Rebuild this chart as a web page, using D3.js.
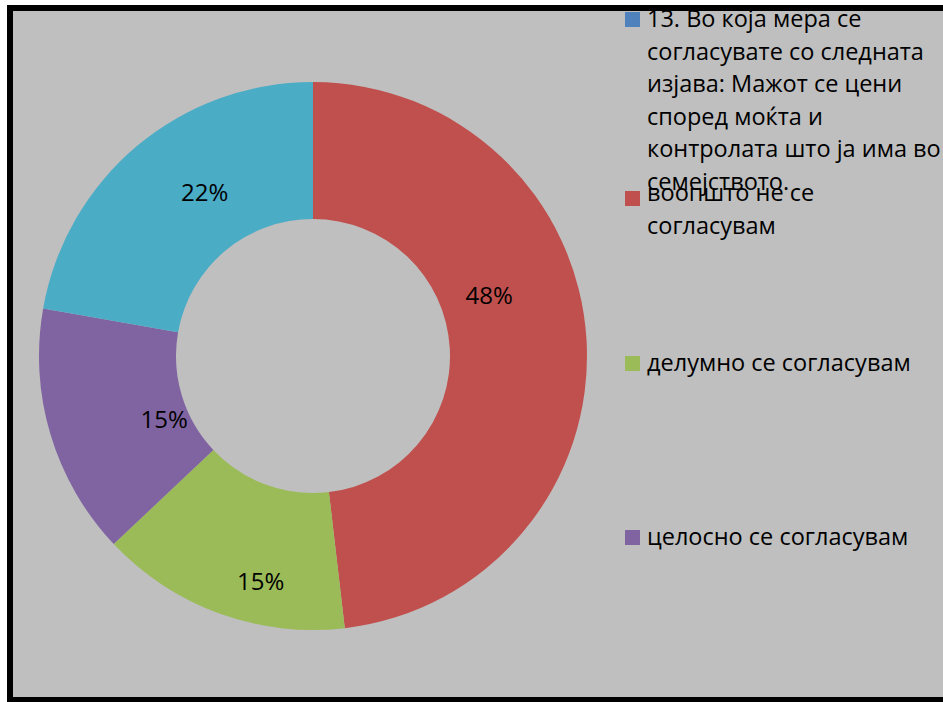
<!DOCTYPE html>
<html>
<head>
<meta charset="utf-8">
<script src="https://cdn.jsdelivr.net/npm/d3@7"></script>
<style>
  body { margin: 0; background: #fff; }
  text { font-family: "Open Sans", "Noto Sans", sans-serif; fill: #000; }
</style>
</head>
<body>
<div id="chart"></div>
<script>
// data
var categories = [
  "13. Во која мера се\nсогласувате со следната\nизјава: Мажот се цени\nспоред моќта и\nконтролата што ја има во\nсемејството.",
  "воопшто не се\nсогласувам",
  "делумно се согласувам",
  "целосно се согласувам"
];
var sliceCategories = ["воопшто не се согласувам", "делумно се согласувам", "целосно се согласувам", "(без наслов)"];
var sliceValues = [13, 4, 4, 6];
var sliceLabels = ["48%", "15%", "15%", "22%"];
var sliceColors = ["#C0504D", "#9BBB59", "#8064A2", "#4BACC6"];
var legendColors = ["#4F81BD", "#C0504D", "#9BBB59", "#8064A2"];

var svgWidth = 943;
var svgHeight = 702;

var svg = d3.select("#chart")
  .append("svg")
  .attr("width", svgWidth)
  .attr("height", svgHeight);

// clip for the plot area
svg.append("clipPath")
  .attr("id", "area")
  .append("rect")
  .attr("x", 13).attr("y", 11)
  .attr("width", 940).attr("height", 686);

svg.append("rect")
  .attr("x", 10).attr("y", 8)
  .attr("width", 1000).attr("height", 692)
  .attr("fill", "#BFBFBF");

var content = svg.append("g").attr("clip-path", "url(#area)");

// donut
var cx = 313, cy = 356;
var outerR = 274, innerR = 137;

var pie = d3.pie().sort(null).value(d => d);
var arcs = pie(sliceValues);

var arc = d3.arc().innerRadius(innerR).outerRadius(outerR);

var chartGroup = content.append("g")
  .attr("transform", `translate(${cx}, ${cy})`);

chartGroup.selectAll("path")
  .data(arcs)
  .enter()
  .append("path")
  .attr("d", arc)
  .attr("fill", (d, i) => sliceColors[i]);

// where each label sits inside its slice: [angle fraction, radius fraction]
var labelSpot = [[0.41, 0.36], [0.37, 0.69], [0.38, 0.18], [0.58, 0.43]];

chartGroup.selectAll(".label")
  .data(arcs)
  .enter()
  .append("text")
  .attr("class", "label")
  .attr("transform", function(d, i) {
    var a = d.startAngle + (d.endAngle - d.startAngle) * labelSpot[i][0];
    var r = innerR + (outerR - innerR) * labelSpot[i][1];
    return `translate(${r * Math.sin(a)}, ${-r * Math.cos(a)})`;
  })
  .attr("text-anchor", "middle")
  .attr("dy", "0.35em")
  .style("font-size", "24px")
  .text((d, i) => sliceLabels[i]);

// legend
var legendTop = [19, 198, 363, 537];
var textShift = [0, -5, 0, 0];
var lineH = 32.5;

var legend = content.selectAll(".legend")
  .data(categories)
  .enter()
  .append("g")
  .attr("class", "legend")
  .attr("transform", (d, i) => `translate(625, ${legendTop[i]})`);

legend.append("rect")
  .attr("x", 0).attr("y", -7)
  .attr("width", 15).attr("height", 15)
  .attr("fill", (d, i) => legendColors[i]);

legend.append("text")
  .attr("x", 22)
  .style("font-size", "23.5px")
  .selectAll("tspan")
  .data((d, i) => d.split("\n").map(s => ({ s: s, k: i })))
  .enter()
  .append("tspan")
  .attr("x", 22)
  .attr("y", (d, j) => j * lineH + textShift[d.k])
  .attr("dy", "0.35em")
  .text(d => d.s);

// frame
svg.append("rect")
  .attr("x", 10).attr("y", 8)
  .attr("width", 1000).attr("height", 692)
  .attr("fill", "none")
  .attr("stroke", "#000")
  .attr("stroke-width", 6);
</script>
</body>
</html>
